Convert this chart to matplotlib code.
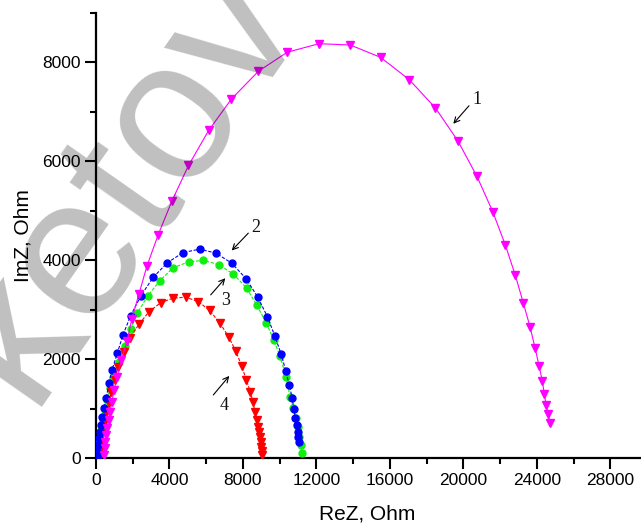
import matplotlib
matplotlib.use('Agg')
import matplotlib.pyplot as plt
from matplotlib.ticker import MultipleLocator

plt.rcParams['font.family'] = ['Liberation Sans', 'DejaVu Sans']

# curve 1 (magenta triangles)
x1 = [419, 473, 506, 561, 615, 691, 762, 871, 980, 1159, 1377, 1703, 1943, 2340,
      2775, 3390, 4136, 5034, 6133, 7374, 8843, 10411, 12136, 13839, 15493, 17061,
      18476, 19700, 20734, 21588, 22274, 22818, 23254, 23618, 23891, 24108, 24287,
      24396, 24505, 24614, 24707]
y1 = [61, 196, 330, 466, 601, 769, 937, 1140, 1376, 1646, 1984, 2374, 2808, 3319,
      3886, 4520, 5202, 5916, 6625, 7262, 7823, 8207, 8379, 8353, 8102, 7647,
      7078, 6410, 5694, 4985, 4311, 3698, 3137, 2657, 2232, 1868, 1564,
      1295, 1068, 885, 714]

# curve 2 (blue circles)
x2 = [54, 71, 109, 147, 201, 256, 327, 435, 561, 707, 871, 1159, 1469, 1888, 2449,
      3118, 3880, 4735, 5643, 6530, 7385, 8163, 8794, 9333, 9741, 10084, 10324,
      10519, 10677, 10764, 10846, 10922, 10977, 11009, 11064]
y2 = [26, 128, 263, 399, 532, 668, 836, 1006, 1220, 1512, 1781, 2119, 2490, 2880, 3285,
      3657, 3947, 4155, 4224, 4143, 3941, 3629, 3259, 2854, 2459, 2094, 1765,
      1469, 1214, 992, 810, 668, 532, 431, 330]

# curve 3 (green circles)
x3 = [147, 201, 288, 381, 473, 599, 746, 925, 1235, 1562, 1888, 2248, 2814, 3483,
      4190, 5045, 5850, 6694, 7472, 8206, 8740, 9268, 9676, 10013, 10340, 10557,
      10737, 10868, 10977, 11064, 11156, 11227]
y3 = [162, 364, 567, 769, 972, 1174, 1411, 1646, 1949, 2267, 2605, 2929, 3279, 3589,
      3846, 3967, 3997, 3910, 3718, 3435, 3097, 2732, 2382, 2064, 1646, 1241,
      1006, 804, 634, 431, 263, 95]

# curve 4 (red triangles)
x4 = [163, 201, 256, 327, 435, 561, 691, 833, 1018, 1197, 1524, 1834, 2340, 2868,
      3521, 4190, 4881, 5567, 6177, 6737, 7222, 7608, 7929, 8179, 8397, 8544,
      8653, 8745, 8833, 8887, 8925, 8963, 8996, 9017, 9034]
y4 = [26, 162, 330, 500, 702, 905, 1107, 1342, 1579, 1848, 2152, 2423, 2706, 2951,
      3143, 3232, 3253, 3164, 2985, 2732, 2449, 2162, 1862, 1579, 1342, 1133,
      921, 769, 634, 532, 431, 330, 229, 148, 61]

fig = plt.figure(figsize=(6.41, 5.26), dpi=100)
ax = fig.add_axes([96/641, 68/526, 545/641, 445/526])

ax.plot(x3, y3, color='#11ee11', ls=(0, (3, 1.5)), lw=0.8, marker='o', ms=5, zorder=3)
ax.plot(x4, y4, color='#ff0000', ls=(0, (3, 1.5)), lw=0.8, marker='v', ms=6, zorder=4)
ax.plot(x2, y2, color='#0000ff', ls=(0, (3, 1.5)), lw=0.8, marker='o', ms=5, zorder=5)
ax.plot(x1, y1, color='#ff00ff', ls='-', lw=0.8, marker='v', ms=6, zorder=6)

# curve numbers with arrows
labels = [('1', (20734, 7246), (20299, 7124), (19444, 6760)),
          ('2', (8669, 4661), (8288, 4548), (7385, 4196)),
          ('3', (7075, 3184), (6242, 3299), (7037, 3637)),
          ('4', (6982, 1052), (6383, 1275), (7254, 1660))]
for txt, pos, tail, tip in labels:
    ax.text(pos[0], pos[1], txt, fontsize=13, family='Liberation Serif',
            ha='center', va='center', color='#111111')
    ax.annotate('', xy=tip, xytext=tail,
                arrowprops=dict(arrowstyle='->', color='black', lw=0.8,
                                shrinkA=0, shrinkB=0))

ax.set_xlim(0, 29660)
ax.set_ylim(0, 9000)
ax.xaxis.set_major_locator(MultipleLocator(4000))
ax.xaxis.set_minor_locator(MultipleLocator(2000))
ax.yaxis.set_major_locator(MultipleLocator(2000))
ax.yaxis.set_minor_locator(MultipleLocator(1000))

for s in ['top', 'right']:
    ax.spines[s].set_visible(False)
for s in ['left', 'bottom']:
    ax.spines[s].set_linewidth(1.6)
ax.tick_params(which='major', direction='out', length=8, width=1.5, labelsize=12.5, pad=3)
ax.tick_params(which='minor', direction='out', length=4.5, width=1.5)

ax.set_xlabel('ReZ, Ohm', fontsize=15)
ax.set_ylabel('ImZ, Ohm', fontsize=15)
ax.xaxis.set_label_coords(0.497, -0.105)
ax.yaxis.set_label_coords(-0.117, 0.5)

# watermark
fig.text(303.5/641, (526-15.6)/526, 'ketov', fontsize=144, rotation=55,
         rotation_mode='anchor', ha='right', va='baseline', color='black',
         alpha=0.25, zorder=10)

fig.savefig('out.png', dpi=100)
